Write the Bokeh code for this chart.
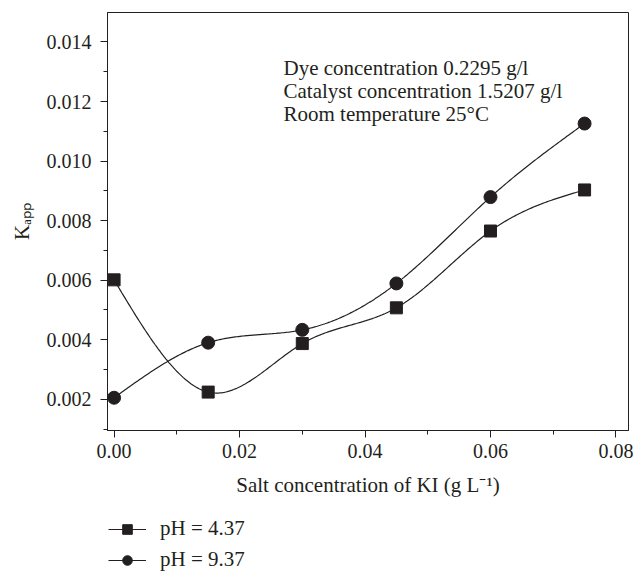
import numpy as np
from bokeh.plotting import figure
from bokeh.layouts import column
from bokeh.models import (Range1d, SingleIntervalTicker, PrintfTickFormatter,
                          Legend, LegendItem, Label)
from bokeh.embed import file_html
from bokeh.resources import INLINE

# ---- data ----
salt_ki = [0.0, 0.015, 0.030, 0.045, 0.060, 0.075]
kapp_ph437 = [0.00601, 0.00224, 0.00387, 0.00507, 0.00765, 0.00903]
kapp_ph937 = [0.00205, 0.00390, 0.00433, 0.00589, 0.00879, 0.01126]
series_labels = ["pH = 4.37", "pH = 9.37"]
notes = ["Dye concentration 0.2295 g/l",
         "Catalyst concentration 1.5207 g/l",
         "Room temperature 25\u00b0C"]
note_y = [0.01311, 0.01234, 0.01157]

INK = "#231f20"
FONT = "Liberation Serif"


def smooth(xs, ys, n=300):
    """Natural cubic spline through the data points (for the connecting curve)."""
    x = np.asarray(xs, float)
    y = np.asarray(ys, float)
    N = len(x)
    h = np.diff(x)
    A = np.zeros((N, N))
    b = np.zeros(N)
    A[0, 0] = 1
    A[-1, -1] = 1
    for i in range(1, N - 1):
        A[i, i - 1] = h[i - 1]
        A[i, i] = 2 * (h[i - 1] + h[i])
        A[i, i + 1] = h[i]
        b[i] = 6 * ((y[i + 1] - y[i]) / h[i] - (y[i] - y[i - 1]) / h[i - 1])
    M = np.linalg.solve(A, b)
    xx = np.linspace(x[0], x[-1], n)
    k = np.clip(np.searchsorted(x, xx) - 1, 0, N - 2)
    x0, x1 = x[k], x[k + 1]
    hh = x1 - x0
    t0 = x1 - xx
    t1 = xx - x0
    yy = (M[k] * t0 ** 3 / (6 * hh) + M[k + 1] * t1 ** 3 / (6 * hh)
          + (y[k] / hh - M[k] * hh / 6) * t0 + (y[k + 1] / hh - M[k + 1] * hh / 6) * t1)
    return xx, yy


p = figure(frame_width=521, frame_height=418,
           x_range=Range1d(-0.00105, 0.0820), y_range=Range1d(0.00095, 0.01499),
           output_backend="svg", toolbar_location=None,
           min_border_left=107, min_border_top=12, min_border_right=6,
           min_border_bottom=70)
p.grid.visible = False
p.outline_line_color = INK
p.outline_line_width = 1
p.background_fill_color = "white"
p.border_fill_color = "white"

for ax in (p.xaxis[0], p.yaxis[0]):
    ax.axis_line_color = INK
    ax.major_tick_line_color = INK
    ax.minor_tick_line_color = INK
    ax.major_tick_out = 7
    ax.major_tick_in = 0
    ax.minor_tick_out = 4
    ax.minor_tick_in = 0
    ax.major_label_text_font = FONT
    ax.major_label_text_font_size = "20px"
    ax.major_label_text_color = INK
    ax.axis_label_text_font = FONT
    ax.axis_label_text_font_size = "21px"
    ax.axis_label_text_font_style = "normal"
    ax.axis_label_text_color = INK

p.xaxis.ticker = SingleIntervalTicker(interval=0.02, num_minor_ticks=2)
p.xaxis.formatter = PrintfTickFormatter(format="%.2f")
p.xaxis.axis_label = "Salt concentration of KI (g L\u207b\u00b9)"
p.xaxis.major_label_standoff = 6
p.xaxis.axis_label_standoff = 12
p.yaxis.ticker = SingleIntervalTicker(interval=0.002, num_minor_ticks=2)
p.yaxis.formatter = PrintfTickFormatter(format="%.3f")
p.yaxis.major_label_standoff = 9
p.yaxis.axis_label = "K\u2090\u209a\u209a"
p.yaxis.axis_label_standoff = 10

# curves + markers
sx1, sy1 = smooth(salt_ki, kapp_ph437)
sx2, sy2 = smooth(salt_ki, kapp_ph937)
p.line(sx1, sy1, line_color=INK, line_width=1.2)
p.scatter(salt_ki, kapp_ph437, marker="square", size=12,
          fill_color=INK, line_color=INK)
p.line(sx2, sy2, line_color=INK, line_width=1.2)
p.scatter(salt_ki, kapp_ph937, marker="circle", size=13,
          fill_color=INK, line_color=INK)

# annotation text block
for t, yv in zip(notes, note_y):
    p.add_layout(Label(x=0.0270, y=yv, text=t, text_font=FONT,
                       text_font_size="21px", text_color=INK,
                       text_align="left", text_baseline="middle"))

# ---- legend strip below the chart (its proxy renderers lie outside its view) ----
pl = figure(width=634, height=72, x_range=Range1d(1, 2), y_range=Range1d(1, 2),
            x_axis_type=None, y_axis_type=None,
            output_backend="svg", toolbar_location=None,
            min_border=0, min_border_left=0, min_border_right=0,
            min_border_top=0, min_border_bottom=0)
pl.grid.visible = False
pl.outline_line_color = None
pl.background_fill_color = "white"
pl.border_fill_color = "white"
g1 = pl.line(salt_ki, kapp_ph437, line_color=INK, line_width=1.2)
s1 = pl.scatter(salt_ki, kapp_ph437, marker="square", size=11,
                fill_color=INK, line_color=INK)
g2 = pl.line(salt_ki, kapp_ph937, line_color=INK, line_width=1.2)
s2 = pl.scatter(salt_ki, kapp_ph937, marker="circle", size=12,
                fill_color=INK, line_color=INK)

legend = Legend(items=[LegendItem(label=series_labels[0], renderers=[g1, s1]),
                       LegendItem(label=series_labels[1], renderers=[g2, s2])],
                location=(1, 0), orientation="vertical")
legend.border_line_color = None
legend.background_fill_alpha = 0
legend.glyph_width = 38
legend.glyph_height = 24
legend.label_standoff = 14
legend.spacing = 6
legend.padding = 0
legend.margin = 0
legend.label_text_font = FONT
legend.label_text_font_size = "21px"
legend.label_text_color = INK
pl.add_layout(legend, "center")

layout = column(p, pl, spacing=0)
open("out.html", "w").write(file_html(layout, INLINE))
